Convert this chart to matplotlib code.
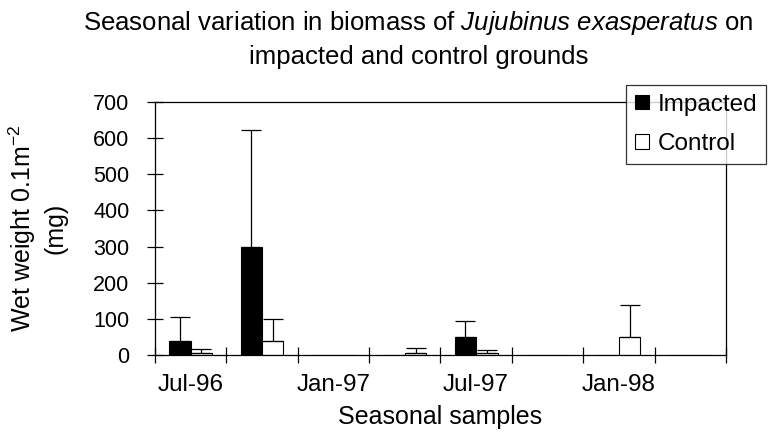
import matplotlib
matplotlib.use("Agg")
import matplotlib.pyplot as plt
import numpy as np

plt.rcParams['font.family'] = ['Liberation Sans', 'DejaVu Sans']
plt.rcParams['mathtext.fontset'] = 'custom'
plt.rcParams['mathtext.rm'] = 'Liberation Sans'
plt.rcParams['mathtext.it'] = 'Liberation Sans:italic'

# dados
amostras = ['Jul-96', 'Oct-96', 'Jan-97', 'Apr-97', 'Jul-97', 'Oct-97', 'Jan-98', 'Apr-98']
rotulos = ['Jul-96', '', 'Jan-97', '', 'Jul-97', '', 'Jan-98', '']
impactado = [40, 300, 0, 0, 50, 0, 0, 0]
impactado_erro = [65, 323, 0, 0, 44, 0, 0, 0]
controle = [5, 40, 0, 5, 5, 0, 50, 0]
controle_erro = [12, 60, 0, 13, 9, 0, 88, 0]

fig = plt.figure(figsize=(7.69, 4.36), dpi=100)
ax = fig.add_axes([0.2016, 0.1858, 0.7424, 0.5802])

x = np.arange(len(amostras))
largura = 0.3

ax.bar(x - largura / 2, impactado, largura, color='black', edgecolor='black',
       linewidth=0.8, label='Impacted', zorder=2)
ax.bar(x + largura / 2, controle, largura, color='white', edgecolor='black',
       linewidth=0.8, label='Control', zorder=2)

# barras de erro só para cima, só onde existe erro
for desloc, valores, erros in [(-largura / 2, impactado, impactado_erro),
                               (largura / 2, controle, controle_erro)]:
    idx = [i for i, e in enumerate(erros) if e > 0]
    ax.errorbar(x[idx] + desloc, [valores[i] for i in idx],
                yerr=[[0] * len(idx), [erros[i] for i in idx]],
                fmt='none', ecolor='black', elinewidth=0.9, capsize=7,
                capthick=0.9, zorder=3)

ax.set_xlim(-0.5, len(amostras) - 0.5)
ax.set_ylim(0, 700)
ax.set_yticks(range(0, 701, 100))
ax.set_xticks(np.arange(-0.5, len(amostras), 1))
ax.set_xticklabels([])
ax.set_xticks(x, minor=True)
ax.set_xticklabels(rotulos, minor=True)
ax.tick_params(axis='both', which='major', direction='inout', length=11,
               width=0.9)
ax.tick_params(axis='y', labelsize=15.5, pad=13)
ax.tick_params(axis='x', which='minor', length=0, labelsize=17.5, pad=14)

for lado in ax.spines.values():
    lado.set_linewidth(0.9)

ax.set_xlabel('Seasonal samples', fontsize=18, labelpad=6)
ax.set_ylabel('Wet weight 0.1m$^{-2}$\n(mg)', fontsize=18, linespacing=1.25)
ax.yaxis.set_label_coords(-0.154, 0.5)

fig.text(0.544, 0.948, 'Seasonal variation in biomass of $\\mathit{Jujubinus\\ exasperatus}$ on',
         ha='center', va='center', fontsize=18.5)
fig.text(0.544, 0.87, 'impacted and control grounds', ha='center', va='center', fontsize=18.5)

leg = ax.legend(loc='upper left', bbox_to_anchor=(0.825, 1.067), borderaxespad=0,
                fontsize=17.5, frameon=True, fancybox=False, edgecolor='black',
                handlelength=0.6, handleheight=0.55, handletextpad=0.35,
                labelspacing=0.72, borderpad=0.35)
leg.get_frame().set_linewidth(0.9)
leg.set_zorder(5)

plt.savefig('out.png', dpi=100)
